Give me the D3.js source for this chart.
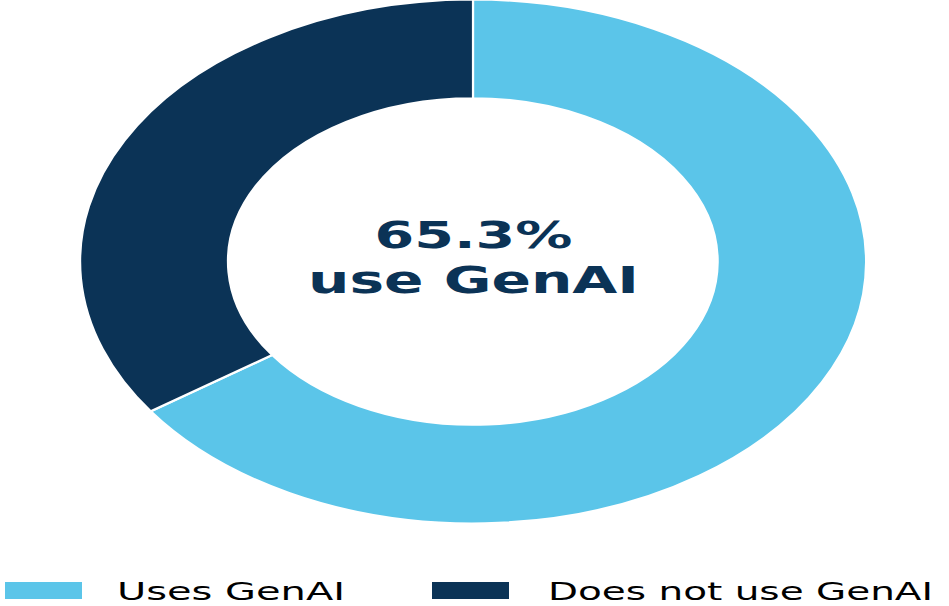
<!DOCTYPE html>
<html>
<head>
<meta charset="utf-8">
<script src="https://cdn.jsdelivr.net/npm/d3@7"></script>
<style>
  body { margin: 0; background: #fff; }
  svg { display: block; }
  text { font-family: "DejaVu Sans", sans-serif; }
</style>
</head>
<body>
<svg id="chart" width="949" height="606"></svg>
<script>
// data
var labels = ["Uses GenAI", "Does not use GenAI"];
var shares = [65.3, 34.7];
var colors = ["#5BC5E9", "#0B3356"];
var centerLines = ["65.3%", "use GenAI"];

var svg = d3.select("#chart");

// the donut in the reference is wider than tall
var cx = 473, cy = 261.5,
    rx = 393, ry = 262,
    inner = 0.623;

var pie = d3.pie().sort(null).value(function (d) { return d; });
var arc = d3.arc().innerRadius(inner).outerRadius(1);

var g = svg.append("g")
    .attr("transform", "translate(" + cx + "," + cy + ") scale(" + rx + "," + ry + ")");

g.selectAll("path")
    .data(pie(shares))
    .enter()
    .append("path")
    .attr("d", arc)
    .attr("fill", function (d, i) { return colors[i]; })
    .attr("stroke", "#fff")
    .attr("stroke-width", 2.2)
    .attr("vector-effect", "non-scaling-stroke");

// center label, stretched like the source
var centerSpec = [
  { y: 248, len: 198 },
  { y: 293, len: 331 }
];
svg.selectAll("text.center")
    .data(centerLines)
    .enter()
    .append("text")
    .attr("class", "center")
    .attr("x", cx + 0.5)
    .attr("y", function (d, i) { return centerSpec[i].y; })
    .attr("text-anchor", "middle")
    .attr("font-size", 37.5)
    .attr("font-weight", "bold")
    .attr("fill", "#0B3356")
    .attr("textLength", function (d, i) { return centerSpec[i].len; })
    .attr("lengthAdjust", "spacingAndGlyphs")
    .text(function (d) { return d; });

// legend
var legendSpec = [
  { box: 5, text: 117, len: 228 },
  { box: 432, text: 548, len: 385 }
];
var leg = svg.append("g").attr("class", "legend");

leg.selectAll("rect")
    .data(labels)
    .enter()
    .append("rect")
    .attr("x", function (d, i) { return legendSpec[i].box; })
    .attr("y", 582)
    .attr("width", 77)
    .attr("height", 17)
    .attr("fill", function (d, i) { return colors[i]; });

leg.selectAll("text")
    .data(labels)
    .enter()
    .append("text")
    .attr("x", function (d, i) { return legendSpec[i].text; })
    .attr("y", 600)
    .attr("font-size", 24)
    .attr("fill", "#000")
    .attr("textLength", function (d, i) { return legendSpec[i].len; })
    .attr("lengthAdjust", "spacingAndGlyphs")
    .text(function (d) { return d; });
</script>
</body>
</html>
